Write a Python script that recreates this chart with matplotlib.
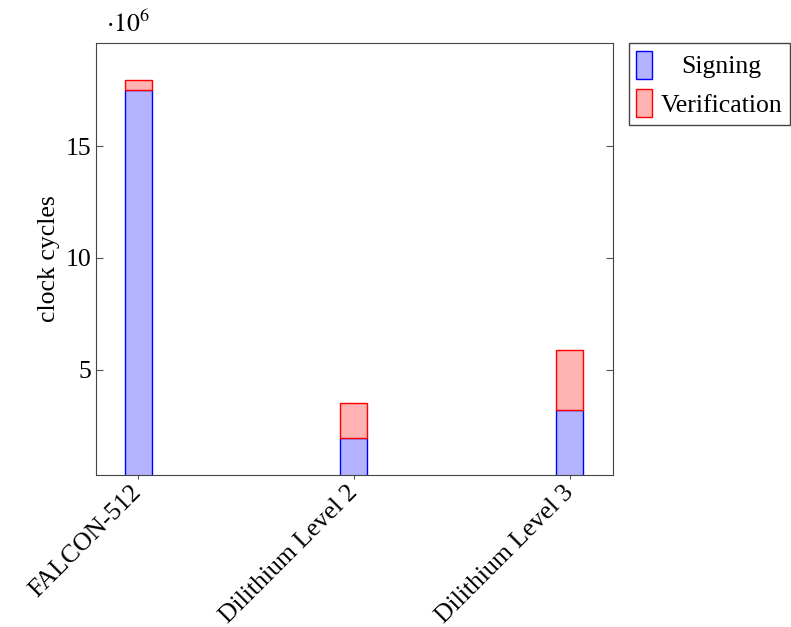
import numpy as np
import matplotlib.pyplot as plt

plt.rcParams['font.family'] = ['Liberation Serif', 'DejaVu Serif']
plt.rcParams['mathtext.fontset'] = 'stix'

schemes = ["FALCON-512", "Dilithium Level 2", "Dilithium Level 3"]
signing = [17.5e6, 1.96e6, 3.21e6]
verification = [0.45e6, 1.57e6, 2.68e6]

fig = plt.figure(figsize=(7.91, 6.27), dpi=100)
ax = fig.add_axes([96/791, 1-475/627, (613-96)/791, (475-43)/627])

x = np.arange(len(schemes))
w = 0.125
ax.bar(x, signing, w, color='#b3b3ff', edgecolor='blue', linewidth=1, label='Signing')
ax.bar(x, verification, w, bottom=signing, color='#ffb3b3', edgecolor='red', linewidth=1, label='Verification')

fs = 18.5
ax.set_xlim(-0.195, 2.2)
ax.set_ylim(0.31e6, 19.6e6)
ax.set_yticks([5e6, 10e6, 15e6])
ax.set_yticklabels(['5', '10', '15'], fontsize=fs)
ax.set_xticks(x)
ax.set_xticklabels(schemes, rotation=45, ha='right', va='center', rotation_mode='anchor', fontsize=fs)
ax.tick_params(axis='y', direction='in', right=True, length=5, color='#555555')
ax.tick_params(axis='x', direction='out', length=3, color='#555555', pad=7)
ax.set_ylabel('clock cycles', fontsize=fs)
ax.text(0.02, 1.015, r'$\cdot 10^6$', transform=ax.transAxes, fontsize=fs, va='bottom')
for s in ax.spines.values():
    s.set_color('#444444')

leg = ax.legend(loc='upper left', bbox_to_anchor=(1.03, 1.0), fontsize=fs, fancybox=False,
                edgecolor='#444444', framealpha=1, handlelength=0.6, handleheight=1.3,
                borderaxespad=0, labelspacing=0.4, handletextpad=0.35, borderpad=0.3)
leg.get_frame().set_linewidth(1)

# centre the legend texts like pgfplots does
fig.canvas.draw()
r = fig.canvas.get_renderer()
texts = leg.get_texts()
wmax = max(t.get_window_extent(r).width for t in texts)
for t in texts:
    t.set_x((wmax - t.get_window_extent(r).width) / 2)

fig.savefig('out.png', dpi=100)
